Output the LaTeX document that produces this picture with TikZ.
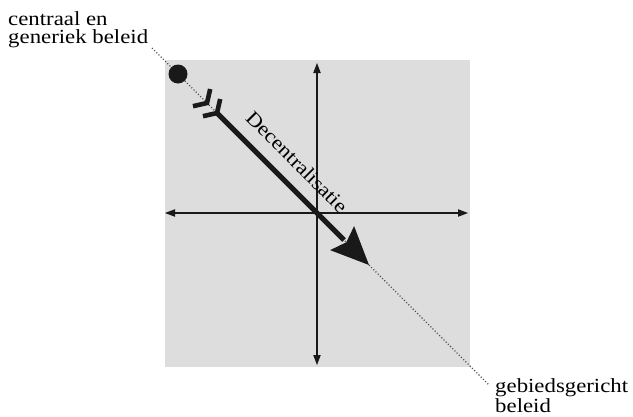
\documentclass[tikz,border=0pt]{standalone}
\usepackage{fontspec}
\usepackage{graphicx}
\setmainfont{Liberation Serif}
\usetikzlibrary{calc}
\begin{document}
\begin{tikzpicture}[x=1pt,y=-1pt,
  lbl/.style={inner sep=0pt, align=left, anchor=base west, xscale=1.14,
    font=\fontsize{20}{17.5}\selectfont},
  axis/.style={line width=2.3pt, draw=black!90},
  axtip/.style={fill=black!90}]
\definecolor{bggray}{RGB}{221,221,221}
\useasboundingbox (0,0) rectangle (633,416);
% grey square
\fill[bggray] (165,60) rectangle (470,367);
% axes
\coordinate (C) at (317,213);
\coordinate (L) at (165,213);
\coordinate (R) at (468,213);
\coordinate (T) at (317,63);
\coordinate (B) at (317,365);
\draw[axis] (173,213) -- (460,213);
\draw[axis] (317,71) -- (317,357);
\fill[axtip] (L) -- ++(10,-3.8) -- ++(0,7.6) -- cycle;
\fill[axtip] (R) -- ++(-10,-3.8) -- ++(0,7.6) -- cycle;
\fill[axtip] (T) -- ++(-3.8,10) -- ++(7.6,0) -- cycle;
\fill[axtip] (B) -- ++(-3.8,-10) -- ++(7.6,0) -- cycle;
% dotted diagonal
\coordinate (D0) at (152,48);
\coordinate (D1) at (489,385);
\draw[dotted, line width=1.1pt, black!70] (D0) -- (D1);
% dot
\fill[black!90] (178,74) circle (9.5);
% fletching chevrons
\coordinate (V1) at (207,103);
\coordinate (V2) at (217,113);
\draw[line width=4.6pt, black!90, miter limit=3] ($(V1)+(3.2,-14)$) -- (V1) -- ($(V1)+(-14,3.2)$);
\draw[line width=4.6pt, black!90, miter limit=3] ($(V2)+(3.2,-14)$) -- (V2) -- ($(V2)+(-14,3.2)$);
% shaft and head
\coordinate (H) at (369,265);
\draw[line width=5pt, black!90] (V2) -- (344,240);
\fill[black!90] (H) -- (354.1,226.1) -- (346.3,242.3) -- (330.1,250.1) -- cycle;
% labels
\node[lbl] (top) at (8,43) {centraal en\\generiek beleid};
\node[lbl] (bot) at (495,412) {gebiedsgericht\\beleid};
\node[inner sep=0pt, rotate=-45, font=\fontsize{20}{20}\selectfont] (dec) at (297,162) {\scalebox{1.12}[1]{Decentralisatie}};
\end{tikzpicture}
\end{document}
